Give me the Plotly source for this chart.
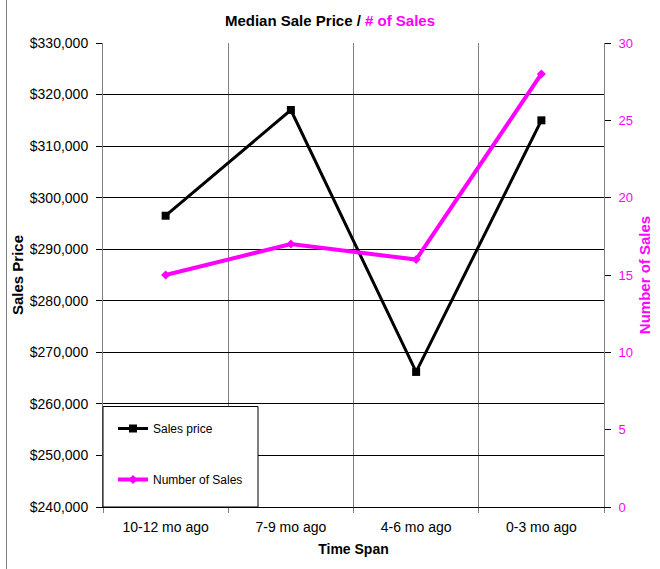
import plotly.graph_objects as go

categories = ["10-12 mo ago", "7-9 mo ago", "4-6 mo ago", "0-3 mo ago"]
sales_price = [296500, 317000, 266200, 315000]
num_sales = [15, 17, 16, 28]
price_ticks = list(range(240000, 330001, 10000))
count_ticks = [0, 5, 10, 15, 20, 25, 30]

MAG = "#FF00FF"
GRAY = "#808080"
FONT = "Liberation Sans, Arial, sans-serif"

fig = go.Figure()
fig.add_trace(go.Scatter(
    x=categories, y=sales_price, name="Sales price", mode="lines+markers",
    line=dict(color="black", width=3), marker=dict(symbol="square", size=8, color="black"),
    legendgroup="a", yaxis="y"))
fig.add_trace(go.Scatter(
    x=categories, y=num_sales, name="Number of Sales", mode="lines+markers",
    line=dict(color=MAG, width=4), marker=dict(symbol="diamond", size=7, color=MAG),
    legendgroup="b", yaxis="y2"))

W, H = 660, 569
L, R, T, B = 103, 56, 43, 62
pw, ph = W - L - R, H - T - B

def px(x):
    return (x - L) / pw

def py(y):
    return (H - B - y) / ph

fig.update_layout(
    width=W, height=H, autosize=False,
    margin=dict(l=L, r=R, t=T, b=B, pad=0, autoexpand=False),
    paper_bgcolor="white", plot_bgcolor="white",
    font=dict(family=FONT, size=14, color="black"),
    title=dict(
        text="Median Sale Price / <span style='color:#FF00FF'># of Sales</span>",
        font=dict(family=FONT, size=15, color="black", weight="bold"),
        x=0.5, xref="container", xanchor="center",
        y=1 - 21 / H, yref="container", yanchor="middle"),
    xaxis=dict(
        type="category", categoryorder="array", categoryarray=categories,
        range=[-0.5, len(categories) - 0.5], automargin=False,
        tickson="boundaries", showgrid=True, gridcolor=GRAY, gridwidth=1,
        showline=True, linecolor="black", linewidth=1,
        ticks="outside", ticklen=5, tickcolor=GRAY,
        tickfont=dict(size=14, color="black"), ticklabelstandoff=7,
        title=dict(text="Time Span", font=dict(size=14, weight="bold"), standoff=10),
        zeroline=False),
    yaxis=dict(
        range=[240000, 330000], tickvals=price_ticks, tickformat="$,",
        automargin=False,
        showgrid=True, gridcolor="black", gridwidth=1,
        showline=True, linecolor=GRAY, linewidth=1,
        ticks="outside", ticklen=6, tickcolor="black",
        tickfont=dict(size=14, color="black"), ticklabelstandoff=5,
        title=dict(text="Sales Price", font=dict(size=15, weight="bold"), standoff=2),
        zeroline=False),
    yaxis2=dict(
        overlaying="y", side="right", range=[0, 30], tickvals=count_ticks,
        automargin=False,
        showgrid=False, showline=True, linecolor=GRAY, linewidth=1,
        ticks="outside", ticklen=6, tickcolor="black",
        tickfont=dict(size=13, color=MAG), ticklabelstandoff=5,
        title=dict(text="Number of Sales", font=dict(size=15, color=MAG, weight="bold"), standoff=7),
        zeroline=False),
    showlegend=True,
    legend=dict(
        x=px(113), y=py(414), xanchor="left", yanchor="top",
        bgcolor="rgba(0,0,0,0)", borderwidth=0,
        font=dict(size=12, color="black"),
        traceorder="grouped", tracegroupgap=32, itemwidth=30),
    shapes=[
        dict(type="rect", xref="paper", yref="paper",
             x0=px(103), x1=px(258), y0=py(507), y1=py(406.5),
             fillcolor="white", line=dict(color="black", width=1), layer="above"),
        dict(type="line", xref="paper", yref="paper",
             x0=px(6.5), x1=px(6.5), y0=py(H + 5), y1=py(-5),
             line=dict(color=GRAY, width=1)),
    ],
)

fig.write_html(
    "out.html",
    config={"displayModeBar": False},
    post_script="document.body.style.margin='0';document.body.style.overflow='hidden';")
